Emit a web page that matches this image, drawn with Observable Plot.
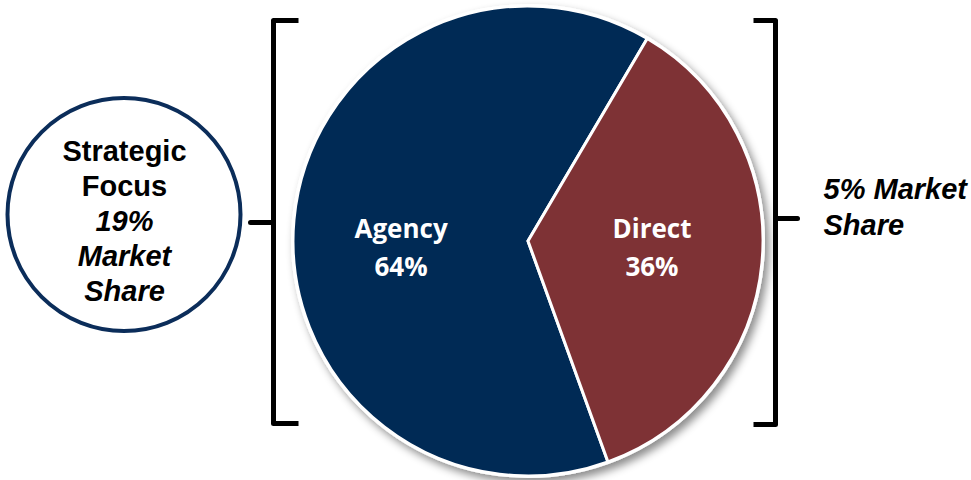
<!DOCTYPE html>
<html>
<head>
<meta charset="utf-8">
<script src="https://cdn.jsdelivr.net/npm/d3@7"></script>
<script src="https://cdn.jsdelivr.net/npm/@observablehq/plot@0.6"></script>
<style>
  html, body { margin: 0; padding: 0; background: #fff; }
</style>
</head>
<body>
<div id="chart"></div>
<script>
// ---- data ----
const channels = ["Agency", "Direct"];
const shares = [64, 36];
const colors = ["#022a55", "#7e3136"];
const leftNote = ["Strategic", "Focus", "19%", "Market", "Share"];
const leftNoteItalic = [false, false, true, true, true];
const rightNote = ["5% Market", "Share"];

// ---- layout ----
const W = 971, H = 480;
const cx = 528, cy = 241, R = 235;
const directStartDeg = 30.5; // Direct slice begins at this angle clockwise from 12 o'clock
const total = d3.sum(shares);
const startAngle = (directStartDeg + 360 * shares[1] / total) * Math.PI / 180;

const pie = d3.pie().sort(null).value(d => d.value)
  .startAngle(startAngle).endAngle(startAngle + 2 * Math.PI);
const slices = pie(channels.map((c, i) => ({channel: c, value: shares[i], color: colors[i]})));

// label rows
const labelR = [128, 124];
const labelRows = [];
slices.forEach((s, i) => {
  const mid = (s.startAngle + s.endAngle) / 2;
  const lx = cx + labelR[i] * Math.sin(mid);
  labelRows.push({x: lx, y: cy - 4, text: s.data.channel});
  labelRows.push({x: lx, y: cy + 34, text: Math.round(s.data.value) + "%"});
});

function pieMark(index, scales, values, dimensions, context) {
  const g = d3.create("svg:g");
  const defs = g.append("defs");
  const f = defs.append("filter").attr("id", "pieShadow")
    .attr("x", "-10%").attr("y", "-10%").attr("width", "125%").attr("height", "125%");
  f.append("feDropShadow").attr("dx", 4).attr("dy", 5).attr("stdDeviation", 4)
    .attr("flood-color", "#000").attr("flood-opacity", 0.45);
  const arc = d3.arc().innerRadius(0).outerRadius(R);
  const px = scales.x(cx), py = scales.y(cy);
  const pg = g.append("g").attr("transform", `translate(${px},${py})`).attr("filter", "url(#pieShadow)");
  pg.append("circle").attr("r", R + 2).attr("fill", "#fff");
  pg.selectAll("path").data(slices).join("path")
    .attr("d", arc)
    .attr("fill", d => d.data.color)
    .attr("stroke", "#fff")
    .attr("stroke-width", 3)
    .attr("stroke-linejoin", "round");
  return g.node();
}

const leftBracket = [[298, 20], [273, 20], [273, 423], [298, 423]].map(([x, y]) => ({x, y}));
const leftNub = [[250, 222], [273, 222]].map(([x, y]) => ({x, y}));
const rightBracket = [[753, 20], [775, 20], [775, 424], [753, 424]].map(([x, y]) => ({x, y}));
const rightNub = [[775, 218], [797, 218]].map(([x, y]) => ({x, y}));

const leftRows = leftNote.map((t, i) => ({x: 124, y: 160 + i * 35.2, text: t, italic: leftNoteItalic[i]}));
const rightRows = rightNote.map((t, i) => ({x: 823, y: 198 + i * 36, text: t}));

const chart = Plot.plot({
  width: W,
  height: H,
  margin: 0,
  x: {domain: [0, W], range: [0, W], axis: null},
  y: {domain: [0, H], range: [0, H], axis: null},
  marks: [
    pieMark,
    Plot.text(labelRows, {x: "x", y: "y", text: "text", fill: "#fff",
      fontFamily: "Open Sans", fontWeight: "bold", fontSize: 26, textAnchor: "middle", lineAnchor: "bottom"}),
    Plot.line(leftBracket, {x: "x", y: "y", stroke: "#000", strokeWidth: 5, strokeLinejoin: "round", strokeLinecap: "butt"}),
    Plot.line(leftNub, {x: "x", y: "y", stroke: "#000", strokeWidth: 5, strokeLinecap: "round"}),
    Plot.line(rightBracket, {x: "x", y: "y", stroke: "#000", strokeWidth: 5, strokeLinejoin: "round", strokeLinecap: "butt"}),
    Plot.line(rightNub, {x: "x", y: "y", stroke: "#000", strokeWidth: 5, strokeLinecap: "round"}),
    Plot.dot([{x: 123.5, y: 214}], {x: "x", y: "y", r: 116.5, fill: "#fff", stroke: "#0b2d5a", strokeWidth: 4}),
    Plot.text(leftRows.filter(d => !d.italic), {x: "x", y: "y", text: "text", fill: "#000",
      fontFamily: "Liberation Sans", fontWeight: "bold", fontSize: 29, textAnchor: "middle", lineAnchor: "bottom"}),
    Plot.text(leftRows.filter(d => d.italic), {x: "x", y: "y", text: "text", fill: "#000",
      fontFamily: "Liberation Sans", fontWeight: "bold", fontStyle: "italic", fontSize: 29, textAnchor: "middle", lineAnchor: "bottom"}),
    Plot.text(rightRows, {x: "x", y: "y", text: "text", fill: "#000",
      fontFamily: "Liberation Sans", fontWeight: "bold", fontStyle: "italic", fontSize: 29, textAnchor: "start", lineAnchor: "bottom"})
  ]
});
document.getElementById("chart").appendChild(chart);
</script>
</body>
</html>
